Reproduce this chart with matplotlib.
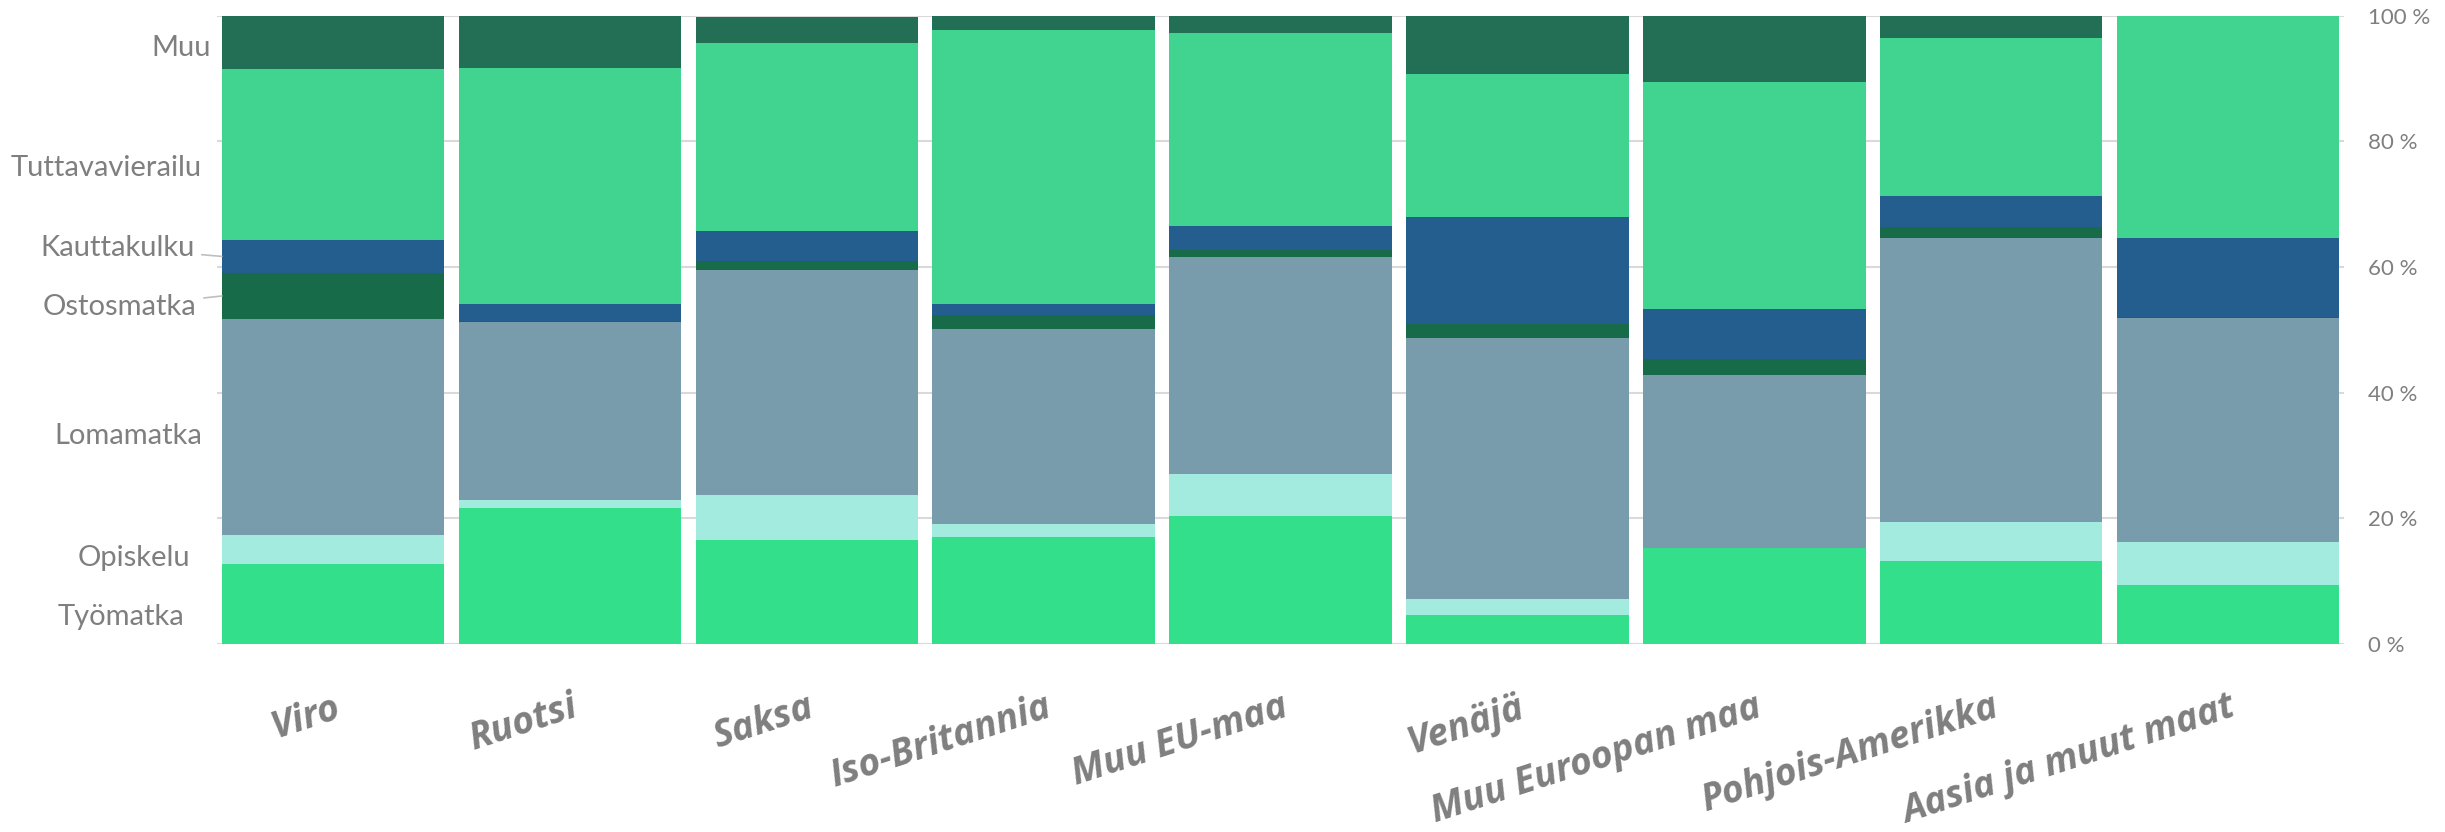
import matplotlib.pyplot as plt
import numpy as np

# countries (x categories) and trip purposes (stacked segments, bottom to top)
countries = ["Viro", "Ruotsi", "Saksa", "Iso-Britannia", "Muu EU-maa",
             "Venäjä", "Muu Euroopan maa", "Pohjois-Amerikka", "Aasia ja muut maat"]
purposes = ["Työmatka", "Opiskelu", "Lomamatka", "Ostosmatka",
            "Kauttakulku", "Tuttavavierailu", "Muu"]

# shares in percent, one list per purpose
tyomatka = [12.7, 21.6, 16.5, 17.0, 20.4, 4.6, 15.3, 13.2, 9.4]
opiskelu = [4.7, 1.3, 7.2, 2.1, 6.7, 2.6, 0.0, 6.2, 6.8]
lomamatka = [34.3, 28.3, 35.9, 31.0, 34.5, 41.5, 27.5, 45.2, 35.7]
ostosmatka = [7.4, 0.2, 1.4, 2.2, 1.1, 2.3, 2.6, 1.8, 0.2]
kauttakulku = [5.2, 2.8, 4.8, 1.9, 3.8, 16.9, 8.0, 4.9, 12.5]
tuttavavierailu = [27.3, 37.5, 29.8, 43.5, 30.8, 22.9, 36.0, 25.1, 35.4]
muu = [8.4, 8.4, 4.2, 2.3, 2.7, 9.2, 10.6, 3.6, 0.0]

colors = ["#33df8a", "#a3ebde", "#789cab", "#186b48", "#245e8f", "#40d490", "#236f55"]
grey = "#7f7f7f"

series = [tyomatka, opiskelu, lomamatka, ostosmatka, kauttakulku, tuttavavierailu, muu]

fig = plt.figure(figsize=(24.45, 8.32), dpi=100)
ax = fig.add_axes([0.0888, 0.226, 0.8699, 0.755])

x = np.arange(len(countries))
width = 0.94
bottom = np.zeros(len(countries))
for vals, col, name in zip(series, colors, purposes):
    vals = np.array(vals)
    ax.bar(x, vals, width, bottom=bottom, color=col, label=name, linewidth=0, zorder=2)
    bottom += vals

ax.set_xlim(-0.49, len(countries) - 0.51)
ax.set_ylim(0, 100)

# grid + right-hand percent axis
ax.set_yticks(np.arange(0, 101, 20))
ax.set_yticklabels([f"{v} %" for v in range(0, 101, 20)])
ax.yaxis.tick_right()
ax.grid(axis="y", color="#d9d9d9", linewidth=1.5, zorder=0)
ax.tick_params(axis="y", length=0, pad=17, labelsize=16, labelcolor=grey)
for lab in ax.get_yticklabels():
    lab.set_family("Lato")
for s in ax.spines.values():
    s.set_visible(False)

# rotated country labels
ax.set_xticks(x)
ax.set_xticklabels(countries, rotation=18, ha="right", rotation_mode="anchor",
                   fontsize=27, fontweight="bold", fontstyle="italic",
                   color=grey, family="Open Sans")
ax.tick_params(axis="x", length=0, pad=32)

# purpose labels on the left, beside the first bar
viro = [s[0] for s in series]
tops = np.cumsum(viro)
mids = tops - np.array(viro) / 2
y_shift = [-2.1, -1.3, -1.4, -1.8, 1.4, -2.1, -0.9]
x_off = [37, 32, 20, 25, 27, 20, 11]
for name, m, dy, dx in zip(purposes, mids, y_shift, x_off):
    if name in ("Kauttakulku", "Ostosmatka"):
        ax.annotate(name, xy=(-0.47, m), xytext=(-dx, dy * 6.28),
                    textcoords="offset pixels", ha="right", va="center",
                    fontsize=21, color=grey, family="Lato", annotation_clip=False,
                    arrowprops=dict(arrowstyle="-", color="#bfbfbf", lw=1.2,
                                    shrinkA=3, shrinkB=0))
    else:
        ax.annotate(name, xy=(-0.47, m + dy), xytext=(-dx, 0),
                    textcoords="offset pixels", ha="right", va="center",
                    fontsize=21, color=grey, family="Lato", annotation_clip=False)

plt.savefig("out.png", dpi=100)
